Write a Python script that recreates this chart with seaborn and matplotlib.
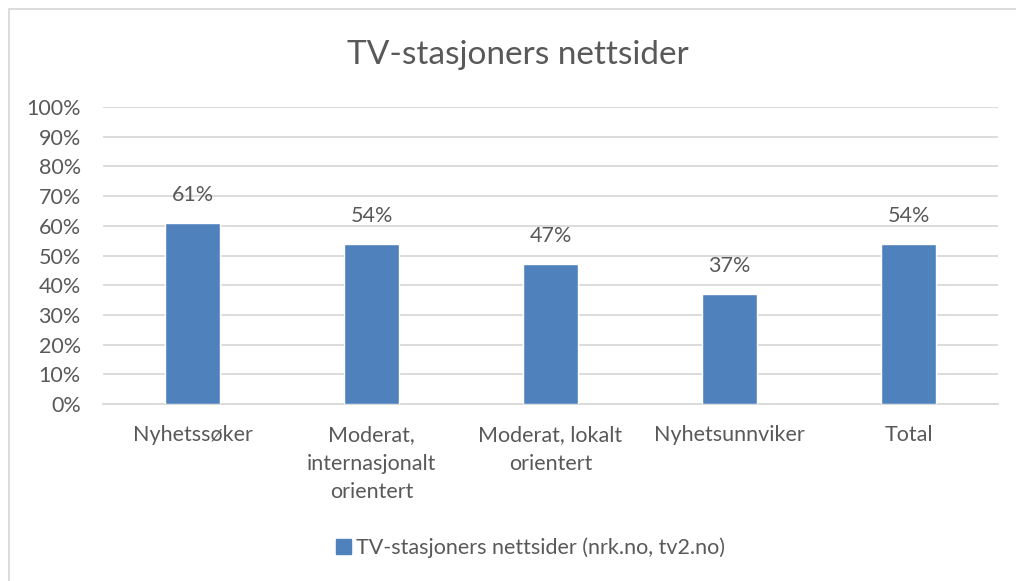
import matplotlib
matplotlib.use("Agg")
import matplotlib.pyplot as plt
import matplotlib.patches as mpatches
import seaborn as sns
import pandas as pd

# data
categories = ["Nyhetssøker", "Moderat,\ninternasjonalt\norientert",
              "Moderat, lokalt\norientert", "Nyhetsunnviker", "Total"]
values = [0.61, 0.54, 0.47, 0.37, 0.54]
series_name = "TV-stasjoners nettsider (nrk.no, tv2.no)"
title = "TV-stasjoners nettsider"

bar_color = "#4F81BD"
text_color = "#595959"

sns.set_theme(style="white")
plt.rcParams['font.family'] = ['Lato', 'DejaVu Sans']

df = pd.DataFrame({"kategori": categories, "andel": values})

fig = plt.figure(figsize=(10.16, 5.81), dpi=100)
ax = fig.add_axes([0.1014, 0.3046, 0.8809, 0.5112])

sns.barplot(data=df, x="kategori", y="andel", color=bar_color,
            width=0.31, saturation=1, ax=ax, zorder=3)

ax.set_ylim(0, 1)
ax.set_xlim(-0.5, len(categories) - 0.5)
ax.set_yticks([i / 10 for i in range(11)])
ax.set_yticklabels([f"{i*10}%" for i in range(11)])
ax.yaxis.grid(True, color="#D9D9D9", linewidth=1.3, zorder=0)
ax.xaxis.grid(False)
ax.set_xlabel("")
ax.set_ylabel("")
for s in ["top", "right", "left"]:
    ax.spines[s].set_visible(False)
ax.spines["bottom"].set_color("#D9D9D9")
ax.spines["bottom"].set_linewidth(1.3)
ax.tick_params(axis="both", length=0, labelsize=15.5, colors=text_color)
ax.tick_params(axis="y", pad=16)
ax.tick_params(axis="x", pad=15)
for lbl in ax.get_xticklabels():
    lbl.set_linespacing(1.55)
    lbl.set_verticalalignment("top")

for i, v in enumerate(values):
    ax.annotate(f"{round(v*100)}%", (i, v), xytext=(0, 13),
                textcoords="offset points", ha="center", va="bottom",
                fontsize=15.5, color=text_color)

fig.text(0.51, 0.905, title, ha="center", va="center", fontsize=24,
         color=text_color)

handle = mpatches.Patch(color=bar_color, label=series_name)
fig.legend(handles=[handle], loc="center", bbox_to_anchor=(0.522, 0.057),
           frameon=False, fontsize=15.5, labelcolor=text_color,
           handlelength=0.7, handleheight=0.7, handletextpad=0.2)

# chart border
border = mpatches.Rectangle((9 / 1016, -0.1), 1.2, 1 - 9 / 581 + 0.1,
                            transform=fig.transFigure, fill=False,
                            edgecolor="#D9D9D9", linewidth=1.3)
fig.patches.append(border)

fig.savefig("out.png", dpi=100)
